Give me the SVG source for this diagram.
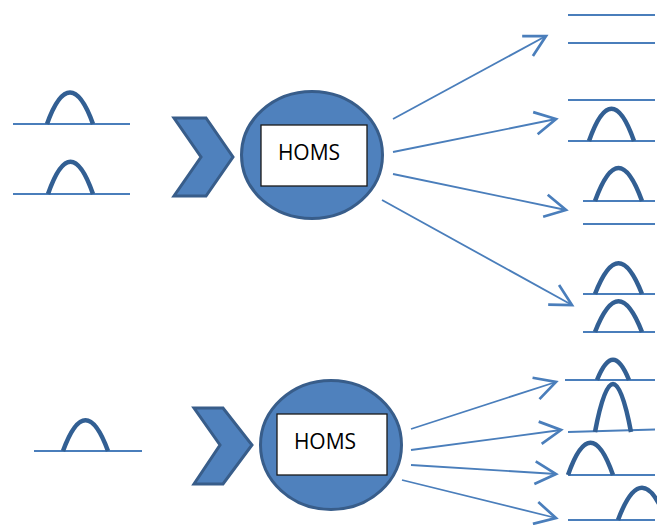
<svg xmlns="http://www.w3.org/2000/svg" width="657" height="525" viewBox="0 0 657 525">
  <style>
    .base { stroke: #4a7ebb; stroke-width: 2; fill: none; }
    .bump { stroke: #325f93; stroke-width: 4.5; fill: none; stroke-linecap: butt; }
    .chev { fill: #4f81bd; stroke: #385d8a; stroke-width: 3; stroke-linejoin: miter; }
    .hub { fill: #4f81bd; stroke: #385d8a; stroke-width: 3; }
    .box { fill: #ffffff; stroke: #1a1a1a; stroke-width: 1.3; }
    .label { font-family: "Open Sans", "Liberation Sans", sans-serif; font-size: 21px; fill: #000; }
    .conn { stroke: #4a7ebb; stroke-width: 1.8; fill: none; marker-end: url(#open); }
  </style>
  <defs>
    <marker id="open" markerUnits="userSpaceOnUse" markerWidth="30" markerHeight="30" refX="0" refY="0" viewBox="-16 -10 20 20" orient="auto">
      <path d="M -14,-7.5 L 0,0 L -14,7.5" fill="none" stroke="#4a7ebb" stroke-width="1.8"/>
    </marker>
  </defs>

  <rect width="657" height="525" fill="#ffffff"/>

  <!-- inputs: top system -->
  <g id="input-top">
    <line class="base" x1="13" y1="124" x2="130" y2="124"/>
    <path class="bump" d="M47,124 C62,82 78,82 93,124"/>
    <line class="base" x1="13" y1="194" x2="130" y2="194"/>
    <path class="bump" d="M48,194 C63,151 78,151 93,194"/>
  </g>

  <!-- input: bottom system -->
  <g id="input-bottom">
    <line class="base" x1="34" y1="451" x2="142" y2="451"/>
    <path class="bump" d="M63,451 C78,410 93,410 108,451"/>
  </g>

  <!-- chevrons -->
  <g id="chevron-top">
    <polygon class="chev" points="174,118 206,118 233,157 206,196 174,196 201,157"/>
  </g>
  <g id="chevron-bottom">
    <polygon class="chev" points="194,408 223,408 252,445 223,484 194,484 220,445"/>
  </g>

  <!-- HOMS hubs -->
  <g id="homs-top">
    <ellipse class="hub" cx="312" cy="155" rx="70.5" ry="63.5"/>
    <rect class="box" x="261" y="125" width="106" height="61"/>
    <text class="label" x="309" y="160" text-anchor="middle">HOMS</text>
  </g>
  <g id="homs-bottom">
    <ellipse class="hub" cx="331" cy="445" rx="70.5" ry="64.5"/>
    <rect class="box" x="277" y="414" width="110" height="61"/>
    <text class="label" x="325" y="449" text-anchor="middle">HOMS</text>
  </g>

  <!-- connectors -->
  <g id="connectors">
    <line class="conn" x1="393" y1="119" x2="546" y2="36"/>
    <line class="conn" x1="393" y1="152" x2="556" y2="119"/>
    <line class="conn" x1="393" y1="174" x2="566" y2="210"/>
    <line class="conn" x1="382" y1="200" x2="572" y2="305"/>
    <line class="conn" x1="411" y1="429" x2="556" y2="382"/>
    <line class="conn" x1="411" y1="450" x2="561" y2="430"/>
    <line class="conn" x1="411" y1="465" x2="556" y2="474"/>
    <line class="conn" x1="402" y1="480" x2="556" y2="518"/>
  </g>

  <!-- outputs: top system -->
  <g id="out-1">
    <line class="base" x1="568" y1="15" x2="655" y2="15"/>
    <line class="base" x1="568" y1="43" x2="655" y2="43"/>
  </g>
  <g id="out-2">
    <line class="base" x1="568" y1="100" x2="655" y2="100"/>
    <line class="base" x1="568" y1="141" x2="655" y2="141"/>
    <path class="bump" d="M589,141 C604,98 619,98 634,141"/>
  </g>
  <g id="out-3">
    <line class="base" x1="583" y1="201" x2="655" y2="201"/>
    <path class="bump" d="M595,201 C611,157 626,157 642,201"/>
    <line class="base" x1="583" y1="224" x2="655" y2="224"/>
  </g>
  <g id="out-4">
    <line class="base" x1="583" y1="294" x2="655" y2="294"/>
    <path class="bump" d="M595,294 C611,253 626,253 642,294"/>
    <line class="base" x1="583" y1="332" x2="655" y2="332"/>
    <path class="bump" d="M595,332 C611,291 626,291 642,332"/>
  </g>

  <!-- outputs: bottom system -->
  <g id="out-5">
    <line class="base" x1="565" y1="380" x2="655" y2="380"/>
    <path class="bump" d="M597,380 C608,353 618,353 629,380"/>
  </g>
  <g id="out-6">
    <line class="base" x1="568" y1="432" x2="655" y2="429.5"/>
    <path class="bump" d="M595,432 C607,368 619,368 631,432"/>
  </g>
  <g id="out-7">
    <line class="base" x1="568" y1="475" x2="655" y2="475"/>
    <path class="bump" d="M568,475 C583,432 598,432 613,475"/>
  </g>
  <g id="out-8">
    <line class="base" x1="568" y1="520" x2="655" y2="520"/>
    <path class="bump" d="M618,520 C634,477 650,477 666,520"/>
  </g>
</svg>
